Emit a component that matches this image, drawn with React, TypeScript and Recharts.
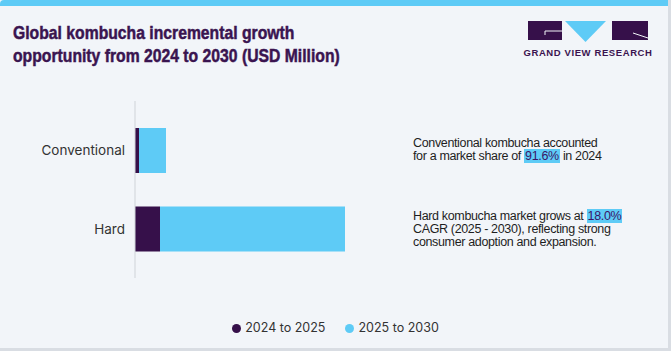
import { BarChart, Bar, XAxis, YAxis, Legend } from "recharts";

// incremental revenue, USD million
const segments = ["Conventional", "Hard"];
const growth2024to2025 = [0.8, 5.0];
const growth2025to2030 = [5.4, 37.0];

const DARK = "#36104a";
const BLUE = "#5ecbf6";

const data = segments.map((name, i) => ({
  name,
  a: growth2024to2025[i],
  b: growth2025to2030[i],
}));

const narrow = "'Liberation Sans Narrow', 'Liberation Sans', Arial, sans-serif";
const noteFont = "'Liberation Sans', Arial, sans-serif";

const Mark = ({ children }: { children: string }) => (
  <span style={{ background: BLUE, color: "#3a1466", padding: "0 1px" }}>{children}</span>
);

const Note = ({ top, lines }: { top: number; lines: React.ReactNode[] }) => (
  <div
    style={{
      position: "absolute",
      left: 413,
      top,
      fontFamily: noteFont,
      fontSize: 12.5,
      letterSpacing: -0.35,
      lineHeight: "13px",
      color: "#1e1e1e",
      whiteSpace: "nowrap",
    }}
  >
    {lines.map((l, i) => (
      <div key={i} style={{ height: 13 }}>{l}</div>
    ))}
  </div>
);

export default function App() {
  return (
    <div
      style={{
        position: "absolute",
        left: 0,
        top: 0,
        width: 671,
        height: 351,
        background: "#f2f5f9",
        overflow: "hidden",
        boxSizing: "border-box",
        borderRight: "3px solid #d9dde3",
        borderBottom: "3px solid #d9dde3",
      }}
    >
      <div style={{ position: "absolute", left: 0, top: 0, width: 671, height: 6, background: BLUE, borderRadius: "4px 4px 0 0" }} />

      <div
        style={{
          position: "absolute",
          left: 13,
          top: 21,
          fontFamily: narrow,
          fontWeight: 700,
          fontSize: 18.5,
          lineHeight: "23px",
          color: "#3a1450",
          whiteSpace: "nowrap",
          transform: "scaleX(0.85)",
          transformOrigin: "left top",
          WebkitTextStroke: "0.5px #3a1450",
        }}
      >
        Global kombucha incremental growth
        <br />
        opportunity from 2024 to 2030 (USD Million)
      </div>

      {/* logo */}
      <svg style={{ position: "absolute", left: 520, top: 14 }} width={140} height={46}>
        <rect x={8} y={7} width={34} height={19} fill={DARK} />
        <path d="M25 17 H42 M25 17 V21" stroke="#f2f5f9" strokeWidth={1} fill="none" />
        <polygon points="45,7 86,7 65.5,28" fill={BLUE} />
        <rect x={92} y={7} width={36} height={19} fill={DARK} />
        <path d="M113 19 L128 24" stroke="#f2f5f9" strokeWidth={1} />
        <text x={68} y={42} textAnchor="middle" fontFamily={noteFont} fontWeight={700} fontSize={9.5} letterSpacing={0.6} fill="#3a1450">
          GRAND VIEW RESEARCH
        </text>
      </svg>

      <div style={{ position: "absolute", left: 0, top: 0 }}>
        <BarChart
          width={671}
          height={351}
          data={data}
          layout="vertical"
          margin={{ top: 101, right: 36, bottom: 58, left: 10 }}
        >
          <XAxis type="number" domain={[0, 100]} hide />
          <YAxis
            type="category"
            dataKey="name"
            width={125}
            padding={{ top: 10, bottom: 10 }}
            axisLine={{ stroke: "#cfd3d8" }}
            tickLine={false}
            tickMargin={4}
            tick={{ fill: "#333", fontSize: 13.5, fontFamily: "Inter, sans-serif" }}
          />
          <Legend
            verticalAlign="bottom"
            iconType="circle"
            iconSize={9}
            wrapperStyle={{ top: 320, left: 10, width: 671, fontFamily: "Inter, sans-serif", fontSize: 12.5 }}
            formatter={(v) => <span style={{ color: "#333", marginRight: 10 }}>{v}</span>}
          />
          <Bar dataKey="a" name="2024 to 2025" stackId="s" fill={DARK} barSize={45} isAnimationActive={false} />
          <Bar dataKey="b" name="2025 to 2030" stackId="s" fill={BLUE} barSize={45} isAnimationActive={false} />
        </BarChart>
      </div>

      <Note
        top={137}
        lines={[
          "Conventional kombucha accounted",
          <>for a market share of <Mark>91.6%</Mark> in 2024</>,
        ]}
      />
      <Note
        top={210}
        lines={[
          <>Hard kombucha market grows at <Mark>18.0%</Mark></>,
          "CAGR (2025 - 2030), reflecting strong",
          "consumer adoption and expansion.",
        ]}
      />
    </div>
  );
}
